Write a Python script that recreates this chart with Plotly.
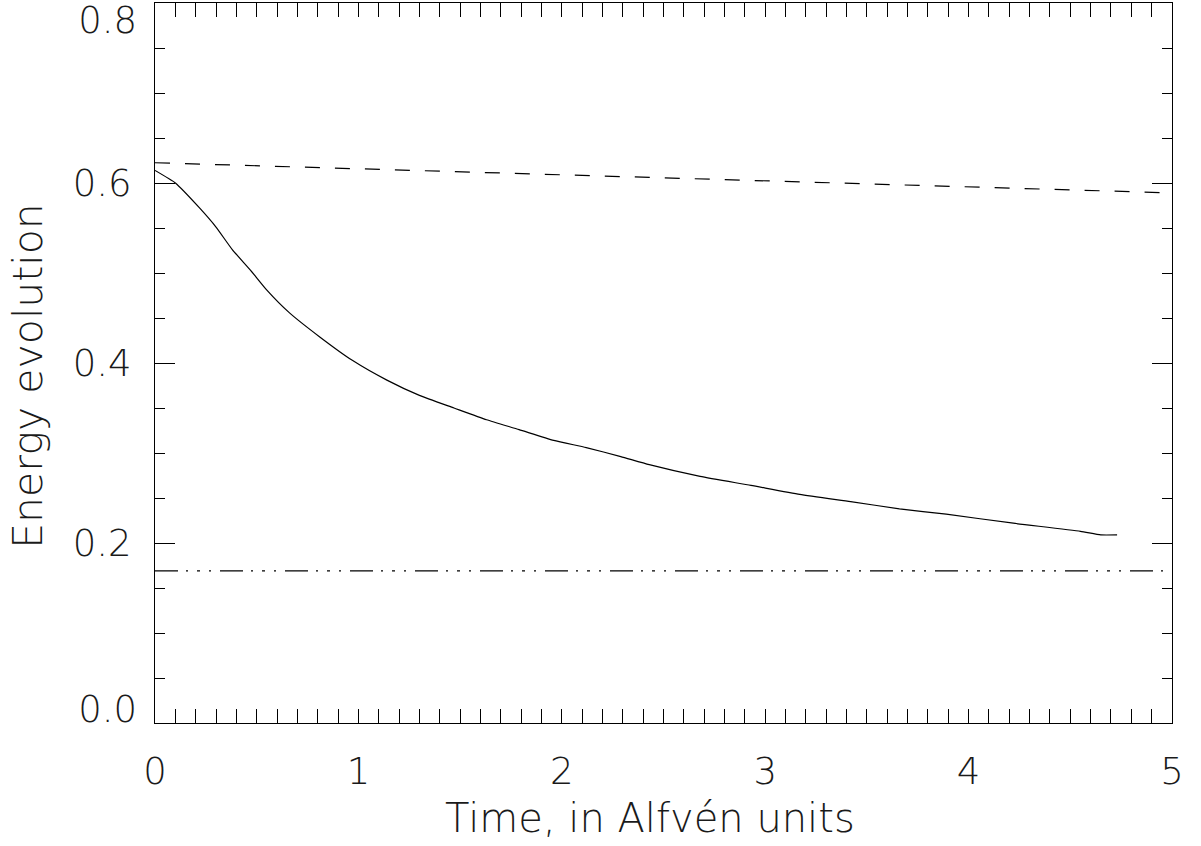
import plotly.graph_objects as go

# Data
t_solid = [0.0, 0.10, 0.22, 0.30, 0.38, 0.47, 0.55, 0.66, 0.81, 0.97, 1.14, 1.30,
           1.47, 1.63, 1.79, 1.96, 2.12, 2.29, 2.43, 2.68, 2.93, 3.17, 3.42, 3.66,
           3.89, 4.22, 4.55, 4.65, 4.73]
e_solid = [0.614, 0.600, 0.572, 0.551, 0.526, 0.503, 0.481, 0.456, 0.429, 0.403,
           0.381, 0.364, 0.350, 0.337, 0.326, 0.314, 0.306, 0.296, 0.287, 0.274,
           0.264, 0.254, 0.246, 0.238, 0.232, 0.222, 0.213, 0.209, 0.209]

t_dashed = [0.0, 5.0]
e_dashed = [0.6225, 0.589]

t_dashdot = [0.0, 4.97]
e_dashdot = [0.169, 0.169]

x_ticks = [0, 1, 2, 3, 4, 5]
y_ticks_mid = [0.2, 0.4, 0.6]
y_tick_bottom = [0.0]
y_tick_top = [0.8]
y_minor = [0.05, 0.1, 0.15, 0.25, 0.3, 0.35, 0.45, 0.5, 0.55, 0.65, 0.7, 0.75]

x_title = "Time, in Alfvén units"
y_title = "Energy evolution"

FONT = "DejaVu Sans"
TXT = "#1a1a1a"

fig = go.Figure()
fig.add_trace(go.Scatter(x=t_solid, y=e_solid, mode="lines",
                         line=dict(color="black", width=1.2, shape="spline",
                                   smoothing=0.5),
                         showlegend=False))
fig.add_trace(go.Scatter(x=t_dashed, y=e_dashed, mode="lines",
                         line=dict(color="black", width=1.2, dash="15px,15px"),
                         showlegend=False))
fig.add_trace(go.Scatter(x=t_dashdot, y=e_dashdot, mode="lines",
                         line=dict(color="black", width=1.2,
                                   dash="23px,8px,2px,9px,3px,9px,2px,9px"),
                         showlegend=False))

tickfont = dict(family=FONT, size=37, color=TXT, weight=200)
titlefont = dict(family=FONT, size=40, color=TXT, weight=200)
ytitlefont = dict(family=FONT, size=41, color=TXT, weight=200)

fig.update_layout(
    width=1201, height=846,
    margin=dict(l=155, r=29, t=3, b=123),
    paper_bgcolor="white", plot_bgcolor="white",
    xaxis=dict(
        range=[0, 5], tickvals=x_ticks, ticktext=[str(v) for v in x_ticks],
        showgrid=False, zeroline=False, automargin=False,
        showline=True, linecolor="black", linewidth=1.2, mirror="allticks",
        ticks="inside", ticklen=14, tickwidth=1, tickcolor="black",
        minor=dict(dtick=0.1, ticks="inside", ticklen=7, tickwidth=1,
                   tickcolor="black", showgrid=False),
        tickfont=tickfont, ticklabelstandoff=15,
    ),
    yaxis=dict(
        range=[0, 0.8], tickvals=y_ticks_mid, tickformat=".1f",
        showgrid=False, zeroline=False, automargin=False,
        showline=True, linecolor="black", linewidth=1.2, mirror="allticks",
        ticks="inside", ticklen=20, tickwidth=1, tickcolor="black",
        minor=dict(tickvals=y_minor, ticks="inside", ticklen=10, tickwidth=1,
                   tickcolor="black", showgrid=False),
        tickfont=tickfont, ticklabelstandoff=15,
    ),
    yaxis2=dict(
        range=[0, 0.8], overlaying="y", side="left", tickvals=y_tick_bottom,
        tickformat=".1f", showgrid=False, zeroline=False, showline=False,
        automargin=False,
        ticks="", ticklabelposition="outside top", ticklabeloverflow="allow",
        ticklabelshift=12, tickfont=tickfont, ticklabelstandoff=17,
    ),
    yaxis3=dict(
        range=[0, 0.8], overlaying="y", side="left", tickvals=y_tick_top,
        tickformat=".1f", showgrid=False, zeroline=False, showline=False,
        automargin=False,
        ticks="", ticklabelposition="outside bottom", ticklabeloverflow="allow",
        ticklabelshift=-9, tickfont=tickfont, ticklabelstandoff=17,
    ),
    annotations=[
        dict(text=x_title, xref="paper", yref="paper", x=0.487, y=-0.132,
             xanchor="center", yanchor="middle", showarrow=False, font=titlefont),
        dict(text=y_title, xref="paper", yref="paper", x=-0.125, y=0.482,
             xanchor="center", yanchor="middle", showarrow=False, textangle=-90,
             font=ytitlefont),
    ],
)

# invisible anchors for the edge-label axes
fig.add_trace(go.Scatter(x=[None], y=[None], yaxis="y2", showlegend=False,
                         hoverinfo="skip"))
fig.add_trace(go.Scatter(x=[None], y=[None], yaxis="y3", showlegend=False,
                         hoverinfo="skip"))

fig.write_html("out.html")
